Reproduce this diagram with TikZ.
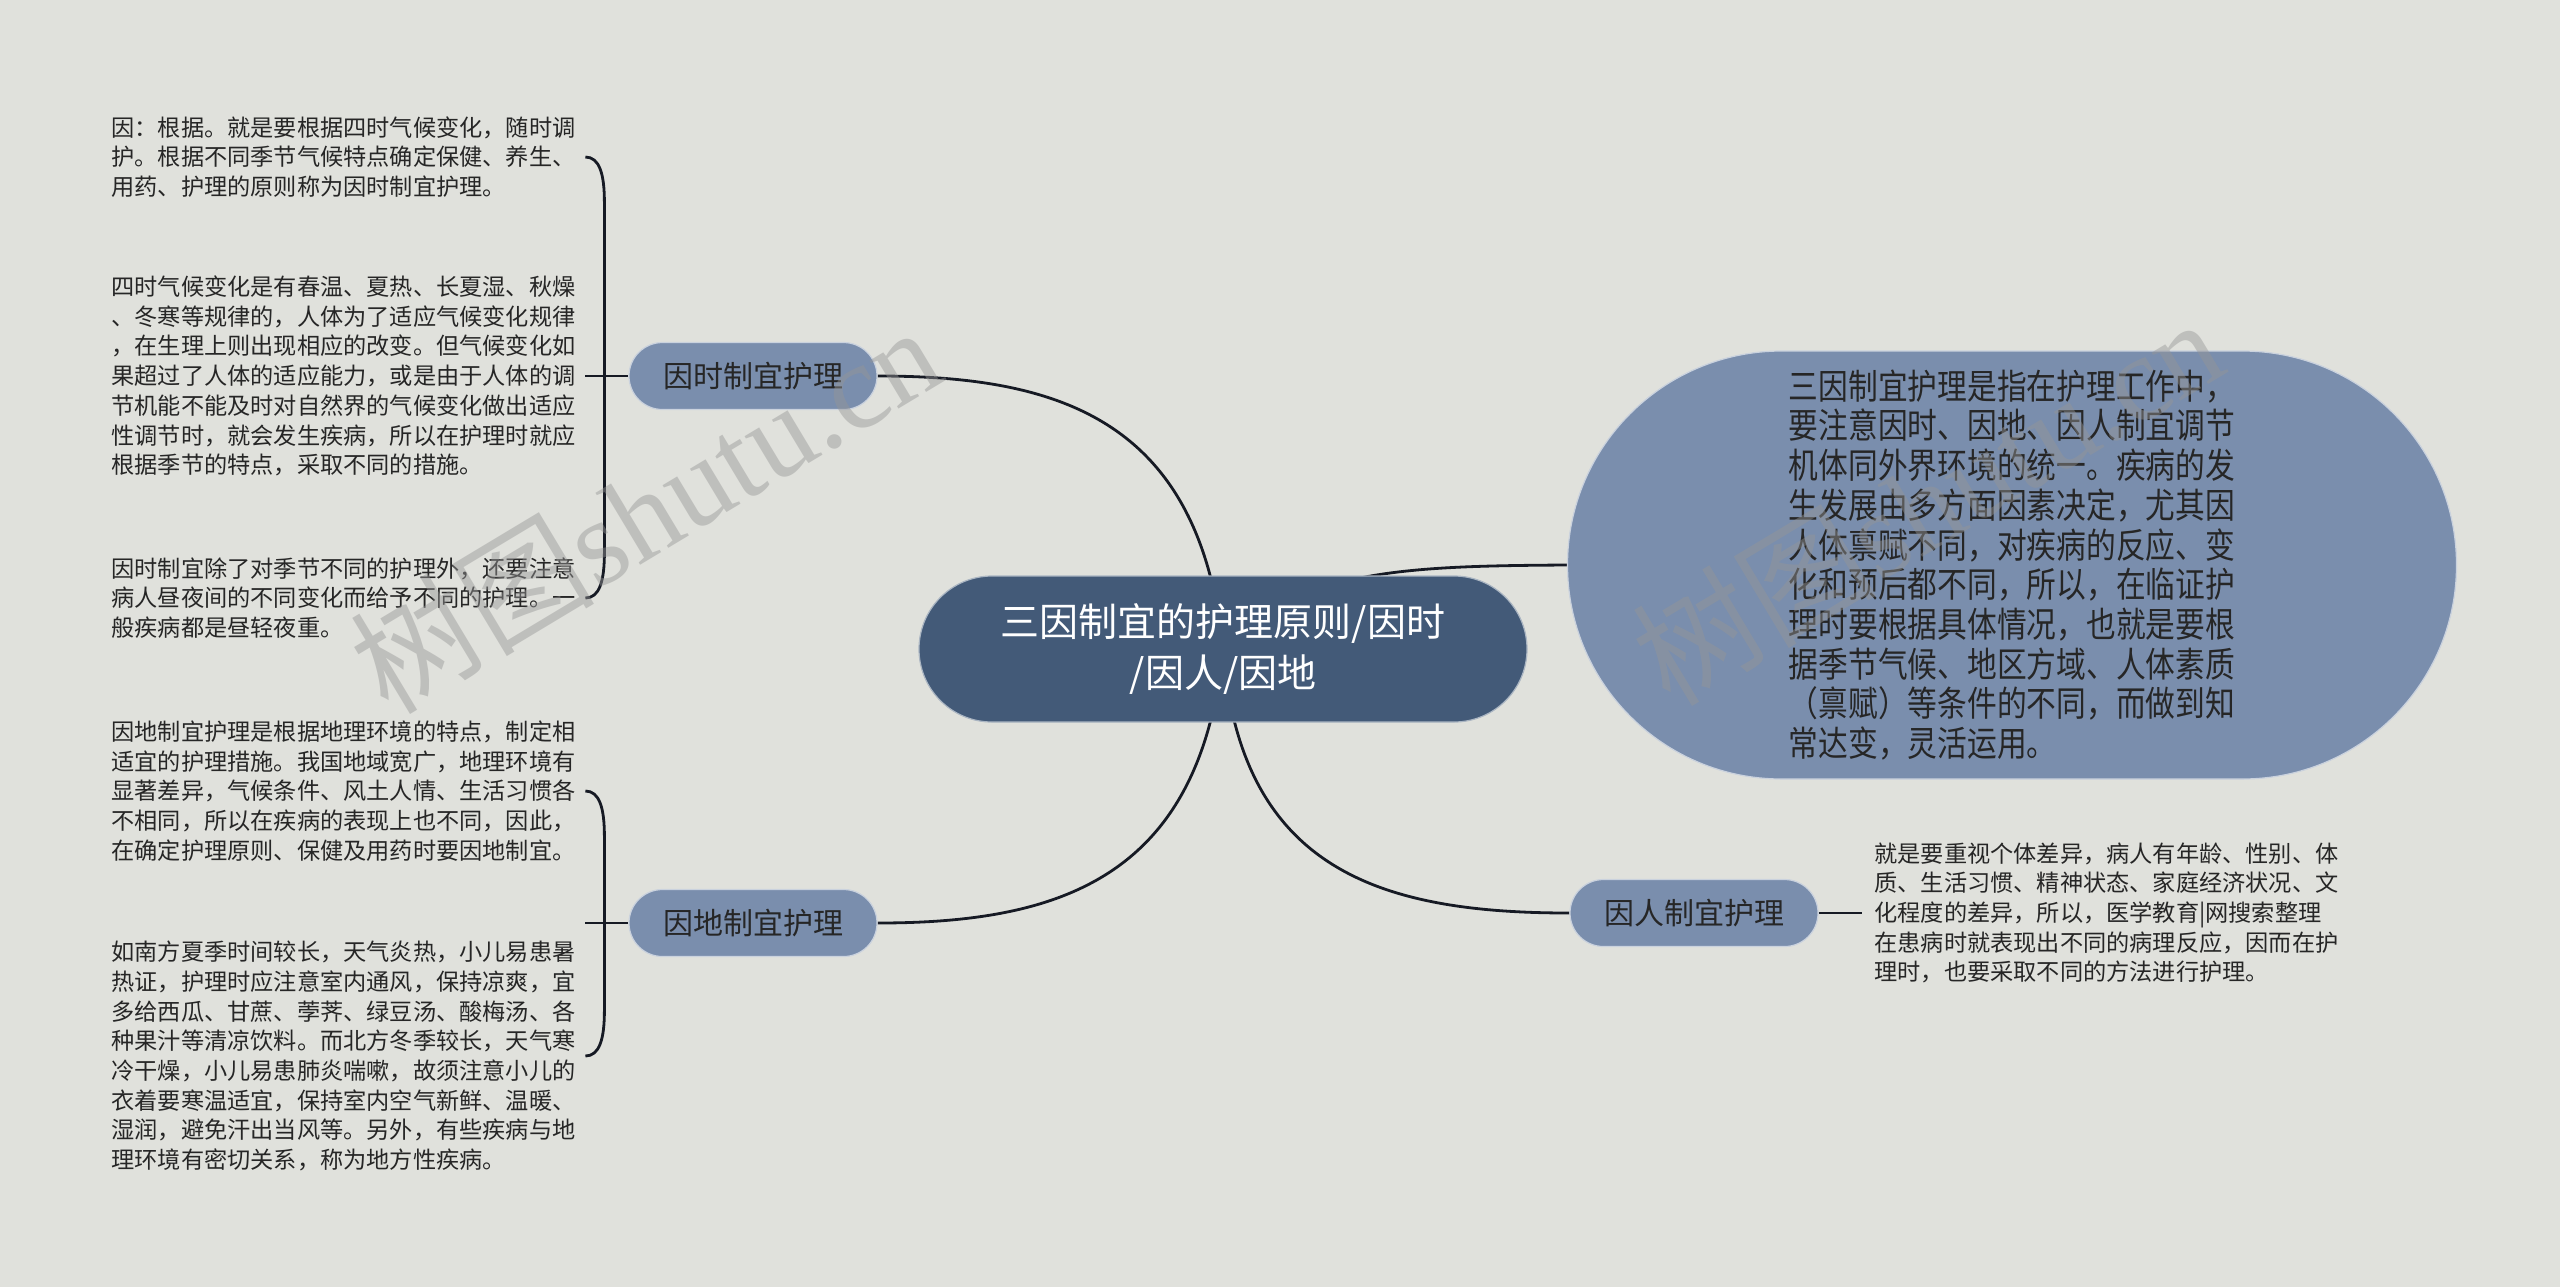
\documentclass[tikz,border=0pt]{standalone}
\usepackage{fontspec}
\setmainfont{Noto Sans CJK SC}
\newfontfamily\bodynarrow[FakeStretch=0.85]{Noto Sans CJK SC}
\newfontfamily\markserif{Liberation Serif}
\usepackage{tikz}
\usetikzlibrary{shapes.misc,positioning,backgrounds,calc}
\definecolor{paper}{RGB}{224,225,220}
\definecolor{rootblue}{RGB}{67,90,120}
\definecolor{topicblue}{RGB}{122,142,173}
\definecolor{inkdark}{RGB}{38,38,38}
\definecolor{linkdark}{RGB}{22,26,36}
\definecolor{markgray}{RGB}{150,150,150}

\begin{document}
\begin{tikzpicture}[
        x=0.5pt, y=-0.5pt,
        root/.style={rounded rectangle, fill=rootblue, draw=white!55!rootblue, line width=0.6pt, minimum width=304pt, minimum height=73pt, inner sep=0pt, align=center, text=white, font=\fontsize{19.5}{25.5}\selectfont},
        topic/.style={rounded rectangle, fill=topicblue, draw=white!60!topicblue, line width=0.6pt, minimum width=124pt, minimum height=33.5pt, inner sep=0pt, text=inkdark, font=\fontsize{15}{18}\selectfont},
        bigtopic/.style={topic, minimum width=444.5pt, minimum height=214pt, align=left, font=\bodynarrow\fontsize{17.5}{19.85}\selectfont},
        note/.style={anchor=west, inner sep=0pt, align=left, text=inkdark, font=\fontsize{11.6}{14.85}\selectfont},
        link/.style={draw=linkdark, line width=1.4pt},
        wmark/.style={text=markgray, opacity=0.45, rotate=31, font=\fontsize{61}{61}\selectfont}
    ]

        \useasboundingbox (0,0) rectangle (2560,1287);

        % Central topic
        \node[root] (root) at (1223,649) {三因制宜的护理原则/因时\\/因人/因地};

        % Main branches
        \node[topic] (time) at (753,376) {因时制宜护理};
        \node[topic] (place) at (753,923) {因地制宜护理};
        \node[topic] (person) at (1694,913) {因人制宜护理};
        \node[bigtopic] (summary) at (2012,565) {三因制宜护理是指在护理工作中，\\要注意因时、因地、因人制宜调节\\机体同外界环境的统一。疾病的发\\生发展由多方面因素决定，尤其因\\人体禀赋不同，对疾病的反应、变\\化和预后都不同，所以，在临证护\\理时要根据具体情况，也就是要根\\据季节气候、地区方域、人体素质\\（禀赋）等条件的不同，而做到知\\常达变，灵活运用。};

        % Notes of the time branch
        \node[note] (t1) at (111,157) {因：根据。就是要根据四时气候变化，随时调\\护。根据不同季节气候特点确定保健、养生、\\用药、护理的原则称为因时制宜护理。};
        \node[note] (t2) at (111,376) {四时气候变化是有春温、夏热、长夏湿、秋燥\\、冬寒等规律的，人体为了适应气候变化规律\\，在生理上则出现相应的改变。但气候变化如\\果超过了人体的适应能力，或是由于人体的调\\节机能不能及时对自然界的气候变化做出适应\\性调节时，就会发生疾病，所以在护理时就应\\根据季节的特点，采取不同的措施。};
        \node[note] (t3) at (111,598) {因时制宜除了对季节不同的护理外，还要注意\\病人昼夜间的不同变化而给予不同的护理。一\\般疾病都是昼轻夜重。};

        % Notes of the place branch
        \node[note] (p1) at (111,791) {因地制宜护理是根据地理环境的特点，制定相\\适宜的护理措施。我国地域宽广，地理环境有\\显著差异，气候条件、风土人情、生活习惯各\\不相同，所以在疾病的表现上也不同，因此，\\在确定护理原则、保健及用药时要因地制宜。};
        \node[note] (p2) at (111,1056) {如南方夏季时间较长，天气炎热，小儿易患暑\\热证，护理时应注意室内通风，保持凉爽，宜\\多给西瓜、甘蔗、荸荠、绿豆汤、酸梅汤、各\\种果汁等清凉饮料。而北方冬季较长，天气寒\\冷干燥，小儿易患肺炎喘嗽，故须注意小儿的\\衣着要寒温适宜，保持室内空气新鲜、温暖、\\湿润，避免汗出当风等。另外，有些疾病与地\\理环境有密切关系，称为地方性疾病。};

        % Note of the person branch
        \node[note] (r1) at (1874,913) {就是要重视个体差异，病人有年龄、性别、体\\质、生活习惯、精神状态、家庭经济状况、文\\化程度的差异，所以，医学教育|网搜索整理\\在患病时就表现出不同的病理反应，因而在护\\理时，也要采取不同的方法进行护理。};

        % Bracket points
        \coordinate (tS) at ($(time.west)+(-24,0)$);
        \coordinate (tE) at ($(time.west)+(-43,0)$);
        \coordinate (pS) at ($(place.west)+(-24,0)$);
        \coordinate (pE) at ($(place.west)+(-43,0)$);

        \begin{scope}[on background layer]
            \fill[paper] (0,0) rectangle (2560,1287);

            % Curves from the centre
            \draw[link] (root.center) .. controls (1200,420) and (1060,376) .. (time.east);
            \draw[link] (root.center) .. controls (1200,878) and (1060,923) .. (place.east);
            \draw[link] (root.center) .. controls (1240,870) and (1380,913) .. (person.west);
            \draw[link] (root.center) .. controls (1300,570) and (1400,566) .. (summary.west);

            % Brackets to the notes
            \draw[link] (time.west) -- (tE);
            \draw[link] (tE |- t1.west) .. controls +(14,0) and +(0,-28) .. ($(tS |- t1.west)+(0,45)$) -- ($(tS |- t3.west)+(0,-45)$) .. controls +(0,28) and +(14,0) .. (tE |- t3.west);
            \draw[link] (place.west) -- (pE);
            \draw[link] (pE |- p1.west) .. controls +(14,0) and +(0,-28) .. ($(pS |- p1.west)+(0,45)$) -- ($(pS |- p2.west)+(0,-45)$) .. controls +(0,28) and +(14,0) .. (pE |- p2.west);
            \draw[link] (person.east) -- ([xshift=-6pt]r1.west);
        \end{scope}

        % Watermarks
        \node[wmark] (wm1) at (645,508) {树图{\markserif shutu.cn}};
        \node[wmark] (wm2) at (1927,500) {树图{\markserif shutu.cn}};

    \end{tikzpicture}
\end{document}
